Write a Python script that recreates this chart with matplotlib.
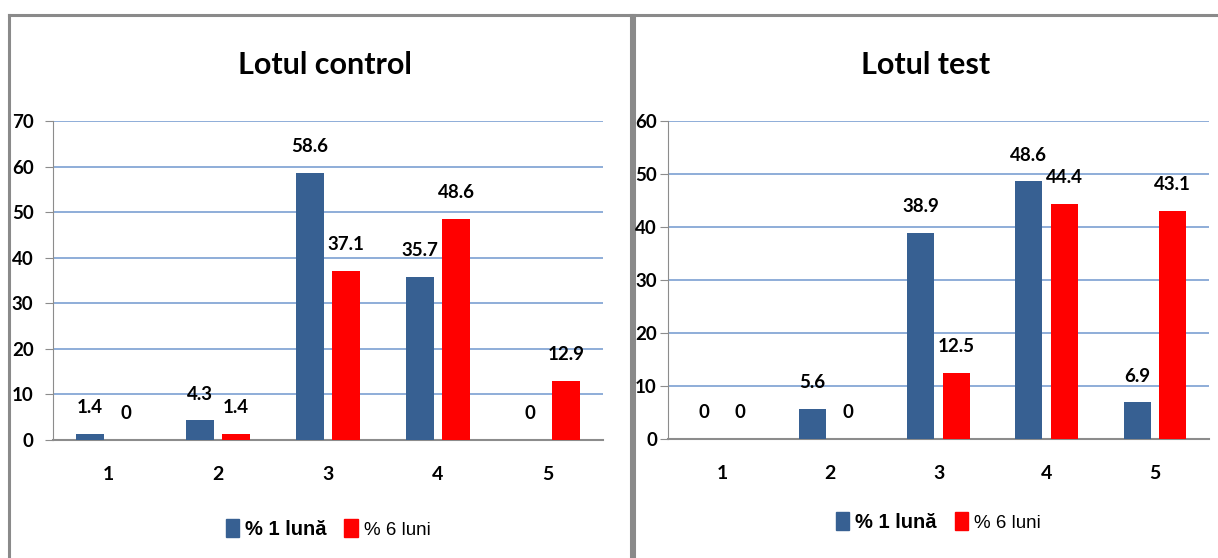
import matplotlib
matplotlib.use("Agg")
import matplotlib.pyplot as plt
import numpy as np
from matplotlib.lines import Line2D

plt.rcParams['font.family'] = ['Lato', 'DejaVu Sans']

# categories and percentages per group
categories = ['1', '2', '3', '4', '5']
control_1luna = [1.4, 4.3, 58.6, 35.7, 0]
control_6luni = [0, 1.4, 37.1, 48.6, 12.9]
test_1luna = [0, 5.6, 38.9, 48.6, 6.9]
test_6luni = [0, 0, 12.5, 44.4, 43.1]

series_names = ['% 1 lună', '% 6 luni']
blue = '#376092'
red = '#ff0000'
grid_col = '#7b9fd2'
axis_col = '#8c8c8c'

W, H = 1218, 558
fig = plt.figure(figsize=(W / 100, H / 100), dpi=100)


def px(x0, y0, x1, y1):
    # pixel box (top-left origin) -> figure fraction rect
    return [x0 / W, 1 - y1 / H, (x1 - x0) / W, (y1 - y0) / H]


def panel(rect, title, tx, a, b, ymax, ystep, width, off, leg_y, ypad):
    ax = fig.add_axes(rect)
    x = np.arange(len(categories))
    b1 = ax.bar(x - off, a, width, color=blue, zorder=3)
    b2 = ax.bar(x + off, b, width, color=red, zorder=3)
    for bars, vals in ((b1, a), (b2, b)):
        for r, v in zip(bars, vals):
            ax.annotate('%g' % v, (r.get_x() + r.get_width() / 2, v),
                        xytext=(0, 19), textcoords='offset points',
                        ha='center', va='center', fontsize=13.5,
                        fontweight='bold', zorder=4)
    ax.set_xlim(-0.5, len(categories) - 0.5)
    ax.set_ylim(0, ymax)
    ax.set_yticks(np.arange(0, ymax + 1, ystep))
    ax.set_xticks(x)
    ax.set_xticklabels(categories)
    ax.yaxis.grid(True, color=grid_col, lw=1.2, zorder=0)
    for s in ('top', 'right'):
        ax.spines[s].set_visible(False)
    ax.spines['left'].set_color(axis_col)
    ax.spines['bottom'].set_color(axis_col)
    ax.spines['bottom'].set_linewidth(1.5)
    ax.tick_params(axis='y', length=6, color=axis_col, pad=ypad, labelsize=13.5)
    ax.tick_params(axis='x', length=0, pad=19, labelsize=14)
    for lab in ax.get_xticklabels() + ax.get_yticklabels():
        lab.set_fontweight('bold')
    handles = [plt.Rectangle((0, 0), 1, 1, color=blue),
               plt.Rectangle((0, 0), 1, 1, color=red)]
    leg = ax.legend(handles, series_names, loc='center',
                    bbox_to_anchor=(0.5, leg_y), ncol=2, frameon=False,
                    handlelength=0.65, handleheight=1.0, handletextpad=0.3,
                    columnspacing=0.9,
                    prop={'family': ['Liberation Sans', 'DejaVu Sans'], 'size': 14.5})
    t1, t2 = leg.get_texts()
    t1.set_fontweight('bold')
    t2.set_fontsize(13.5)
    fig.text(tx / W, 1 - 65 / H, title, ha='center', va='center',
             fontsize=22, fontweight='bold')
    return ax


panel(px(53, 121, 603, 440), 'Lotul control', 325,
      control_1luna, control_6luni, 70, 10, 0.26, 0.165, -0.28, 8)
panel(px(668, 121, 1209, 439), 'Lotul test', 926,
      test_1luna, test_6luni, 60, 10, 0.25, 0.165, -0.26, 2)

# chart frames
for xs, ys in (([9, 1218], [15, 15]), ([9, 9], [15, 560]),
               ([631, 631], [15, 560]), ([634, 634], [15, 560])):
    fig.add_artist(Line2D([v / W for v in xs], [1 - v / H for v in ys],
                          color='#8a8a8a', lw=2.2, zorder=-1))

fig.savefig('out.png', dpi=100)
